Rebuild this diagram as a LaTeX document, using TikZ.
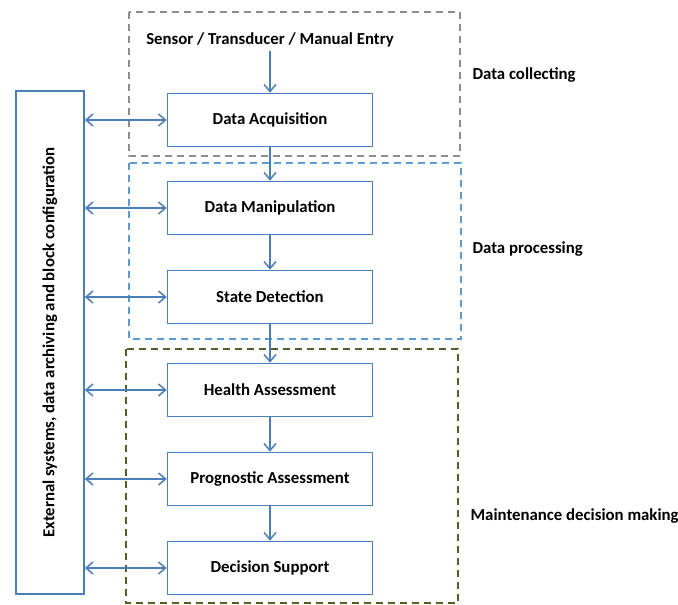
\documentclass[tikz,border=0pt]{standalone}
\usepackage{fontspec}
\setmainfont{Carlito}
\usetikzlibrary{arrows.meta}

\definecolor{boxblue}{HTML}{4A7EBB}
\definecolor{framegray}{HTML}{8C8C8C}
\definecolor{frameblue}{HTML}{5B9BD5}
\definecolor{frameolive}{HTML}{4F6228}

\begin{document}
\begin{tikzpicture}[x=1pt,y=-1pt,
  font=\fontsize{16.8}{19}\selectfont\bfseries,
  blk/.style={draw=boxblue,line width=1.7pt,minimum width=205pt,minimum height=53pt},
  flow/.style={draw=boxblue,line width=1.5pt,-{Straight Barb[length=7pt,width=12pt]}},
  both/.style={draw=boxblue,line width=1.5pt,{Straight Barb[length=7pt,width=12pt]}-{Straight Barb[length=7pt,width=12pt]}},
  frame/.style={line width=1.7pt,dash pattern=on 7pt off 5pt}]
\useasboundingbox (0,0) rectangle (678,605);

\draw[frame,framegray] (129,12) rectangle (460,156);
\draw[frame,frameblue] (129,163) rectangle (461,339);
\draw[frame,frameolive] (126,349) rectangle (458,603);

\node (src) at (270,40) {Sensor / Transducer / Manual Entry};
\node[blk] (acq) at (270,120) {Data Acquisition};
\node[blk] (man) at (270,208) {Data Manipulation};
\node[blk] (det) at (270,297) {State Detection};
\node[blk] (hea) at (270,390) {Health Assessment};
\node[blk] (pro) at (270,479) {Prognostic Assessment};
\node[blk] (dec) at (270,568) {Decision Support};

\node[draw=boxblue,line width=1.7pt,rotate=90,minimum width=503pt,minimum height=68pt] (ext) at (50,342.5)
  {External systems, data archiving and block configuration};

\node[anchor=west] (col) at (469,75) {Data collecting};
\node[anchor=west] (pcs) at (469,249) {Data processing};
\node[anchor=west] (mdm) at (467,516) {Maintenance decision making};

\draw[flow] (src) -- (acq);
\draw[flow] (acq) -- (man);
\draw[flow] (man) -- (det);
\draw[flow] (det) -- (hea);
\draw[flow] (hea) -- (pro);
\draw[flow] (pro) -- (dec);

\foreach \b in {acq,man,det,hea,pro,dec}
  \draw[both] (ext.south |- \b.west) -- (\b.west);
\end{tikzpicture}
\end{document}
